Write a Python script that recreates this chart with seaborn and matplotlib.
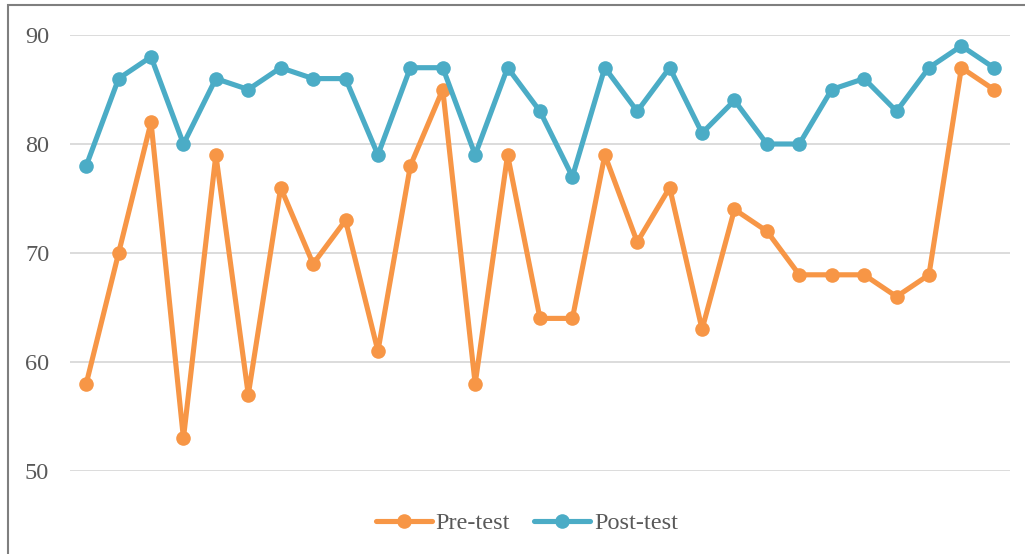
import numpy as np
import pandas as pd
import matplotlib
matplotlib.use("Agg")
import matplotlib.pyplot as plt
import seaborn as sns

# Scores per participant
pre_test = [58, 70, 82, 53, 79, 57, 76, 69, 73, 61, 78, 85, 58, 79, 64,
            64, 79, 71, 76, 63, 74, 72, 68, 68, 68, 66, 68, 87, 85]
post_test = [78, 86, 88, 80, 86, 85, 87, 86, 86, 79, 87, 87, 79, 87, 83,
             77, 87, 83, 87, 81, 84, 80, 80, 85, 86, 83, 87, 89, 87]
series_names = ["Pre-test", "Post-test"]
y_ticks = [50, 60, 70, 80, 90]

participants = np.arange(len(pre_test))
df = pd.DataFrame({
    "participant": np.concatenate([participants, participants]),
    "score": pre_test + post_test,
    "test": [series_names[0]] * len(pre_test) + [series_names[1]] * len(post_test),
})

sns.set_style("white")
plt.rcParams["font.family"] = ["Liberation Serif", "DejaVu Serif"]

fig = plt.figure(figsize=(10.25, 5.54), dpi=100)
ax = fig.add_axes([70 / 1025, 1 - 471 / 554, 940 / 1025, 436 / 554])

palette = {"Pre-test": "#F79646", "Post-test": "#4BACC6"}
sns.lineplot(data=df, x="participant", y="score", hue="test", palette=palette,
             marker="o", markersize=10.5, markeredgewidth=0, linewidth=3.7,
             ax=ax, legend=True)

ax.set_xlim(-0.5, len(pre_test) - 0.5)
ax.set_ylim(50, 90)
ax.set_yticks(y_ticks)
ax.set_xticks([])
ax.set_xlabel("")
ax.set_ylabel("")
ax.yaxis.grid(True, color="#D9D9D9", linewidth=1.3)
ax.set_axisbelow(True)
for s in ax.spines.values():
    s.set_visible(False)
ax.tick_params(axis="y", length=0, pad=15, labelsize=17.5, labelcolor="#595959")
for line in ax.lines:
    line.set_clip_on(False)

handles, labels = ax.get_legend_handles_labels()
leg = ax.legend(handles, labels, loc="center", bbox_to_anchor=(527 / 1025, 1 - 523 / 554),
                bbox_transform=fig.transFigure, ncol=2, frameon=False,
                fontsize=17.5, handlelength=2.3, columnspacing=1.0, handletextpad=0.15,
                labelcolor="#595959")
for h in leg.get_lines():
    h.set_linewidth(3.7)
    h.set_markersize(10.5)

# Outer frame around the chart area
frame = plt.Rectangle((8 / 1025, -0.01), 1.02, 1 - 5 / 554 + 0.01, transform=fig.transFigure,
                      fill=False, edgecolor="#7F7F7F", linewidth=1.5, clip_on=False)
fig.patches.append(frame)

fig.savefig("out.png", dpi=100)
